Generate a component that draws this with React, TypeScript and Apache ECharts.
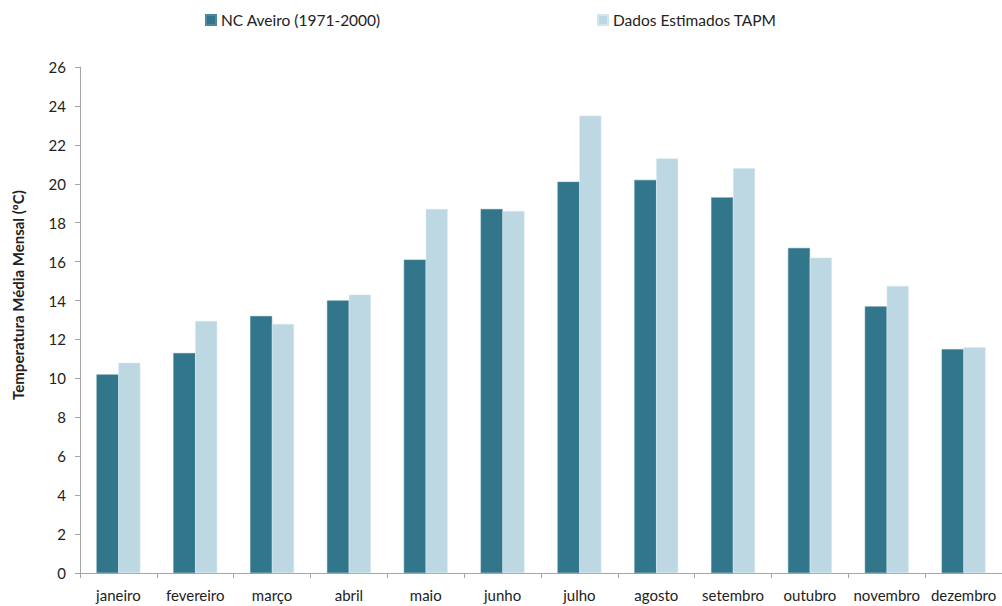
import React, { useEffect, useRef } from "react";
import * as echarts from "echarts";

const months = ["janeiro", "fevereiro", "março", "abril", "maio", "junho", "julho", "agosto", "setembro", "outubro", "novembro", "dezembro"];
const ncAveiro = [10.2, 11.3, 13.2, 14.0, 16.1, 18.7, 20.1, 20.2, 19.3, 16.7, 13.7, 11.5];
const tapm = [10.8, 12.95, 12.8, 14.3, 18.7, 18.6, 23.5, 21.3, 20.8, 16.2, 14.75, 11.6];
const seriesNames = ["NC Aveiro (1971-2000)", "Dados Estimados TAPM"];
const yTitle = "Temperatura Média Mensal (ºC)";

const FONT = "Lato";

export default function App() {
  const ref = useRef<HTMLDivElement>(null);
  useEffect(() => {
    if (!ref.current) return;
    const chart = echarts.init(ref.current, undefined, { renderer: "svg" });
    const legendText = { fontFamily: FONT, fontSize: 15.5, color: "#222" };
    chart.setOption({
      animation: false,
      backgroundColor: "#ffffff",
      textStyle: { fontFamily: FONT },
      legend: [
        {
          data: [seriesNames[0]],
          left: 200,
          top: 7,
          icon: "rect",
          itemWidth: 10,
          itemHeight: 10,
          textStyle: legendText,
        },
        {
          data: [seriesNames[1]],
          left: 592,
          top: 7,
          icon: "rect",
          itemWidth: 10,
          itemHeight: 10,
          textStyle: legendText,
        },
      ],
      grid: { left: 80, top: 67, width: 927, height: 506, containLabel: false },
      xAxis: {
        type: "category",
        data: months,
        axisLine: { show: true, lineStyle: { color: "#a6a6a6", width: 1 } },
        axisTick: { show: true, length: 5, lineStyle: { color: "#a6a6a6" } },
        axisLabel: { fontFamily: FONT, fontSize: 15, color: "#222", margin: 14, interval: 0 },
      },
      yAxis: {
        type: "value",
        min: 0,
        max: 26,
        interval: 2,
        axisLine: { show: true, lineStyle: { color: "#a6a6a6", width: 1 } },
        axisTick: { show: true, length: 5, lineStyle: { color: "#a6a6a6" } },
        splitLine: { show: false },
        axisLabel: { fontFamily: FONT, fontSize: 15, color: "#222", margin: 14 },
      },
      graphic: [
        {
          type: "text",
          x: 18,
          y: 295,
          rotation: Math.PI / 2,
          style: {
            text: yTitle,
            fontFamily: FONT,
            fontSize: 15,
            fontWeight: "bold",
            fill: "#222",
            align: "center",
            verticalAlign: "middle",
          },
        },
      ],
      series: [
        {
          name: seriesNames[0],
          type: "bar",
          data: ncAveiro,
          barGap: "0%",
          barCategoryGap: "43%",
          itemStyle: { color: "#31768a", borderColor: "#4d8a9b", borderWidth: 0.5 },
        },
        {
          name: seriesNames[1],
          type: "bar",
          data: tapm,
          barGap: "0%",
          barCategoryGap: "43%",
          itemStyle: { color: "#bdd8e3", borderColor: "#d3e6ee", borderWidth: 0.5 },
        },
      ],
    });
    return () => chart.dispose();
  }, []);
  return (
    <div
      ref={ref}
      style={{ position: "fixed", left: 0, top: 0, width: 1002, height: 606 }}
    />
  );
}
